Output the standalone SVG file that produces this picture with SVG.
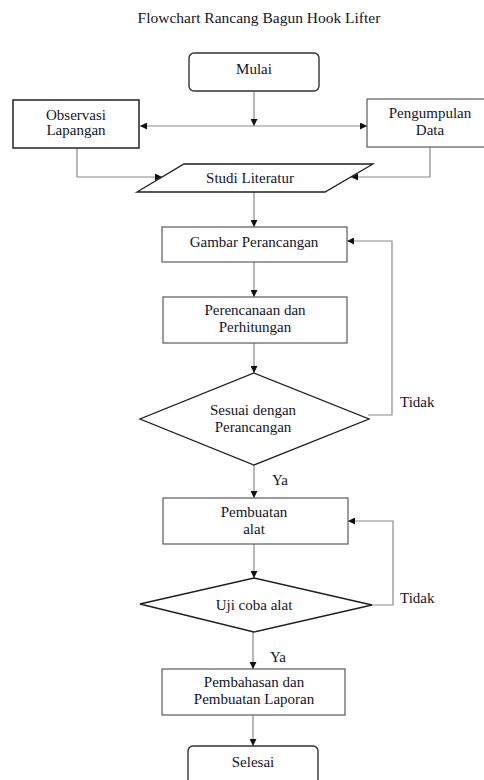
<svg xmlns="http://www.w3.org/2000/svg" width="484" height="780" viewBox="0 0 484 780" font-family="'Liberation Serif', 'Times New Roman', serif">
  <style>
    text { font-family: "Liberation Serif", "Times New Roman", serif; font-size: 15px; fill: #141428; text-anchor: middle; }
    .lbl { text-anchor: start; }
    .box { fill: #ffffff; stroke: #5a5a5a; stroke-width: 1.2; }
    .dark { stroke: #222222; stroke-width: 1.5; }
    .term { fill: #ffffff; stroke: #333333; stroke-width: 1.4; }
    .dec { fill: #ffffff; stroke: #1e1e1e; stroke-width: 1.3; }
    .edge { fill: none; stroke: #8a8a8a; stroke-width: 1.2; }
  </style>
  <defs>
    <marker id="arrow" viewBox="0 0 10 10" refX="10" refY="5" markerWidth="7" markerHeight="7" markerUnits="userSpaceOnUse" orient="auto">
      <path d="M0,0 L10,5 L0,10 z" fill="#111111"/>
    </marker>
  </defs>

  <rect width="484" height="780" fill="#ffffff"/>

  <text id="title" x="259" y="23" font-size="15.5" style="font-size:15.5px">Flowchart Rancang Bagun Hook Lifter</text>

  <g id="connectors">
    <path class="edge" d="M254,91 V126" marker-end="url(#arrow)"/>
    <path class="edge" d="M254,126 H140" marker-end="url(#arrow)"/>
    <path class="edge" d="M254,126 H367" marker-end="url(#arrow)"/>
    <path class="edge" d="M77,148 V177 H162" marker-end="url(#arrow)"/>
    <path class="edge" d="M430,147 V177 H351" marker-end="url(#arrow)"/>
    <path class="edge" d="M254,192 V227" marker-end="url(#arrow)"/>
    <path class="edge" d="M254,262 V297" marker-end="url(#arrow)"/>
    <path class="edge" d="M254,343 V373" marker-end="url(#arrow)"/>
    <path class="edge" d="M368,415 H392 V241 H347" marker-end="url(#arrow)"/>
    <path class="edge" d="M254,465 V498" marker-end="url(#arrow)"/>
    <path class="edge" d="M254,544 V578" marker-end="url(#arrow)"/>
    <path class="edge" d="M371,605 H393 V521 H348" marker-end="url(#arrow)"/>
    <path class="edge" d="M253,632 V669" marker-end="url(#arrow)"/>
    <path class="edge" d="M253,715 V746" marker-end="url(#arrow)"/>
  </g>

  <g id="mulai">
    <rect class="term" x="189" y="53" width="130" height="38" rx="5"/>
    <text x="254" y="74">Mulai</text>
  </g>

  <g id="observasi">
    <rect class="box dark" x="13" y="100" width="126" height="48"/>
    <text x="76" y="120">Observasi</text>
    <text x="76" y="135">Lapangan</text>
  </g>

  <g id="pengumpulan">
    <rect class="box" x="367" y="99" width="126" height="48"/>
    <text x="430" y="118">Pengumpulan</text>
    <text x="430" y="135">Data</text>
  </g>

  <g id="studi">
    <polygon class="dec" points="184,164 373,164 325,192 137,192"/>
    <text x="250" y="183">Studi Literatur</text>
  </g>

  <g id="gambar">
    <rect class="box" x="162" y="227" width="185" height="35"/>
    <text x="254" y="247">Gambar Perancangan</text>
  </g>

  <g id="perencanaan">
    <rect class="box" x="163" y="297" width="184" height="46"/>
    <text x="255" y="315">Perencanaan dan</text>
    <text x="255" y="332">Perhitungan</text>
  </g>

  <g id="sesuai">
    <polygon class="dec" points="254,373 369,419 254,465 140,419"/>
    <text x="253" y="415">Sesuai dengan</text>
    <text x="253" y="432">Perancangan</text>
  </g>
  <text class="lbl" x="400" y="407">Tidak</text>
  <text class="lbl" x="272" y="485">Ya</text>

  <g id="pembuatan">
    <rect class="box" x="163" y="498" width="185" height="46"/>
    <text x="254" y="517">Pembuatan</text>
    <text x="254" y="534">alat</text>
  </g>

  <g id="uji">
    <polygon class="dec" points="254,578 372,605 254,632 140,604"/>
    <text x="254" y="610">Uji coba alat</text>
  </g>
  <text class="lbl" x="400" y="603">Tidak</text>
  <text class="lbl" x="270" y="662">Ya</text>

  <g id="pembahasan">
    <rect class="box" x="162" y="669" width="183" height="46"/>
    <text x="254" y="687">Pembahasan dan</text>
    <text x="254" y="704">Pembuatan Laporan</text>
  </g>

  <g id="selesai">
    <rect class="term" x="188" y="746" width="130" height="44" rx="5"/>
    <text x="253" y="767">Selesai</text>
  </g>
</svg>
